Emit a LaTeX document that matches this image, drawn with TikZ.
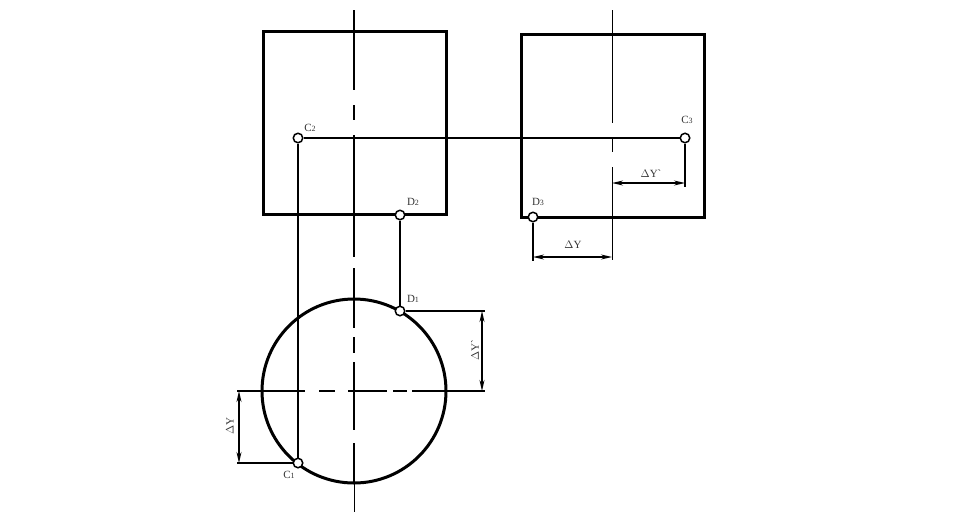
\documentclass[tikz,border=0pt]{standalone}
\usepackage{fontspec}
\setmainfont{Liberation Serif}
\newfontfamily\plainserif{Liberation Serif}
\usetikzlibrary{arrows.meta}
\tikzset{
    contour/.style={line width=3pt},
    link/.style={line width=1.6pt},
    axis/.style={line width=1.8pt},
    thinaxis/.style={line width=1pt},
    dimline/.style={line width=1.5pt, {Stealth[length=11pt,width=5pt]}-{Stealth[length=11pt,width=5pt]}},
    pt/.style={circle, draw, fill=white, line width=1.5pt, inner sep=0pt, minimum size=9.5pt},
    lbl/.style={font=\fontsize{11}{12}\selectfont, inner sep=0pt, text=black!80}
}
\newcommand{\idx}[2]{#1{\fontsize{8}{8}\selectfont #2}}
\newcommand{\tick}{{\plainserif`}}
\begin{document}
\begin{tikzpicture}[x=1pt, y=-1pt]
    \useasboundingbox (0,0) rectangle (976,512);

    % Define the characteristic points
    \coordinate (C1) at (298, 463);
    \coordinate (C2) at (298, 138);
    \coordinate (C3) at (685, 138);
    \coordinate (D1) at (400, 311);
    \coordinate (D2) at (400, 215);
    \coordinate (D3) at (533, 217);

    % Free ends of the dimension lines
    \coordinate (Yc) at (239, 463);
    \coordinate (Ya) at (239, 391);
    \coordinate (Ye) at (482, 311);
    \coordinate (Yf) at (482, 391);
    \coordinate (Yg) at (533, 257);
    \coordinate (Yh) at (612, 257);
    \coordinate (Yi) at (612, 183);
    \coordinate (Yj) at (685, 183);

    % Draw the outlines
    \draw[contour] (263, 31) rectangle (446, 214);   % Front view
    \draw[contour] (521, 34) rectangle (704, 217);   % Side view
    \draw[contour] (354, 391) circle (92);           % Top view

    % Left view axis
    \draw[axis] (354, 10) -- (354, 90);
    \draw[axis] (354, 105) -- (354, 120);
    \draw[axis] (354, 135) -- (354, 257);
    \draw[axis] (354, 268) -- (354, 328);
    \draw[axis] (354, 337) -- (354, 353);
    \draw[axis] (354, 362) -- (354, 430);
    \draw[axis] (354, 443) -- (354, 482);
    \draw[thinaxis] (354, 482) -- (354, 512);

    % Horizontal axis of the circle
    \draw[axis] (237, 391) -- (305, 391);
    \draw[axis] (319, 391) -- (335, 391);
    \draw[axis] (348, 391) -- (387, 391);
    \draw[axis] (393, 391) -- (407, 391);
    \draw[axis] (412, 391) -- (485, 391);

    % Right view axis
    \draw[thinaxis] (612, 10) -- (612, 78);
    \draw[thinaxis] (612, 78) -- (612, 123);
    \draw[thinaxis] (612, 139) -- (612, 152);
    \draw[thinaxis] (612, 167) -- (612, 260);

    % Draw the points
    \node[pt] (c1) at (C1) {};
    \node[pt] (c2) at (C2) {};
    \node[pt] (c3) at (C3) {};
    \node[pt] (d1) at (D1) {};
    \node[pt] (d2) at (D2) {};
    \node[pt] (d3) at (D3) {};

    % Projection links
    \draw[link] (c1) -- (c2);
    \draw[link] (c2) -- (c3);
    \draw[link] (d1) -- (d2);
    \draw[link] (c1) -- (237, 463);
    \draw[link] (d1) -- (485, 311);
    \draw[link] (c3) -- (685, 187);
    \draw[link] (d3) -- (533, 261);

    % Dimension lines
    \draw[dimline] (Ya) -- (Yc);
    \draw[dimline] (Ye) -- (Yf);
    \draw[dimline] (Yg) -- (Yh);
    \draw[dimline] (Yi) -- (Yj);

    % Labels
    \node[lbl] (lc1) at (289, 475) {\idx{C}{1}};
    \node[lbl] (lc2) at (310, 128) {\idx{C}{2}};
    \node[lbl] (lc3) at (687, 120) {\idx{C}{3}};
    \node[lbl] (ld1) at (413, 299) {\idx{D}{1}};
    \node[lbl] (ld2) at (413, 202) {\idx{D}{2}};
    \node[lbl] (ld3) at (538, 202) {\idx{D}{3}};
    \node[lbl, rotate=90] (ly1) at (230, 426) {$\Delta$Y};
    \node[lbl, rotate=90] (ly2) at (475, 350) {$\Delta$Y\tick};
    \node[lbl] (ly3) at (573, 245) {$\Delta$Y};
    \node[lbl] (ly4) at (651, 174) {$\Delta$Y\tick};

\end{tikzpicture}
\end{document}
